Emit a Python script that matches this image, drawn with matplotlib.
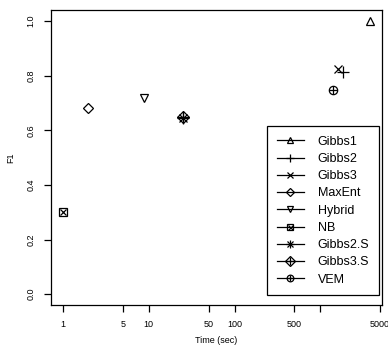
import numpy as np
import matplotlib.pyplot as plt
from matplotlib.lines import Line2D
from matplotlib.legend_handler import HandlerTuple

plt.rcParams['font.family'] = ['Liberation Sans', 'DejaVu Sans']

# methods, run time (sec) and F1 score
methods = ["Gibbs1", "Gibbs2", "Gibbs3", "MaxEnt", "Hybrid", "NB", "Gibbs2.S", "Gibbs3.S", "VEM"]
times = [3800, 1830, 1600, 1.96, 8.7, 1.0, 25, 25, 1400]
f1 = [1.0, 0.814, 0.825, 0.682, 0.719, 0.30, 0.643, 0.650, 0.748]

x_ticks = [1, 5, 10, 50, 100, 500, 1000, 5000]
x_tick_labels = ["1", "5", "10", "50", "100", "500", "", "5000"]
y_ticks = [0.0, 0.2, 0.4, 0.6, 0.8, 1.0]
y_tick_labels = ["0.0", "0.2", "0.4", "0.6", "0.8", "1.0"]

# R style plotting symbols, composites are drawn as overlays
symbols = [
    [dict(marker="^", ms=6)],
    [dict(marker="+", ms=8)],
    [dict(marker="x", ms=6)],
    [dict(marker="D", ms=5)],
    [dict(marker="v", ms=6)],
    [dict(marker="s", ms=6), dict(marker="x", ms=4.5)],
    [dict(marker="+", ms=8), dict(marker="x", ms=6)],
    [dict(marker="D", ms=6), dict(marker="+", ms=8)],
    [dict(marker="o", ms=6), dict(marker="+", ms=6)],
]

fig = plt.figure(figsize=(3.88, 3.56), dpi=100)
ax = fig.add_axes([0.131, 0.143, 0.854, 0.829])

handles = []
for name, t, f, sym in zip(methods, times, f1, symbols):
    parts = []
    for i, s in enumerate(sym):
        ax.plot([t], [f], linestyle="none", color="black", mfc="none", mew=0.9, **s)
        leg_s = dict(s)
        leg_s["ms"] = s["ms"] * 0.8
        parts.append(Line2D([], [], color="black", lw=0.9 if i == 0 else 0,
                            mfc="none", mew=0.9, **leg_s))
    handles.append(tuple(parts))

ax.set_xscale("log")
lo, hi = np.log10(min(times)), np.log10(max(times))
pad = 0.04 * (hi - lo)
ax.set_xlim(10 ** (lo - pad), 10 ** (hi + pad))
ax.set_ylim(-0.04, 1.04)

ax.set_xticks(x_ticks)
ax.set_xticklabels(x_tick_labels)
ax.xaxis.set_minor_locator(plt.NullLocator())
ax.set_yticks(y_ticks)
ax.set_yticklabels(y_tick_labels, rotation=90, va="center")
ax.tick_params(direction="out", length=5, width=0.9, labelsize=6.5, pad=6)

for sp in ax.spines.values():
    sp.set_linewidth(0.9)

ax.set_xlabel("Time (sec)", fontsize=6.5, labelpad=5)
ax.set_ylabel("F1", fontsize=6.5, labelpad=8)

leg = ax.legend(handles, methods, handler_map={tuple: HandlerTuple(ndivide=1, pad=0)},
                loc="lower right", bbox_to_anchor=(0.99, 0.034), fontsize=9,
                fancybox=False, framealpha=1, edgecolor="black", handlelength=2.2,
                labelspacing=0.42, borderpad=0.75, handletextpad=1.1, borderaxespad=0)
leg.get_frame().set_linewidth(0.9)

fig.savefig("out.png")
